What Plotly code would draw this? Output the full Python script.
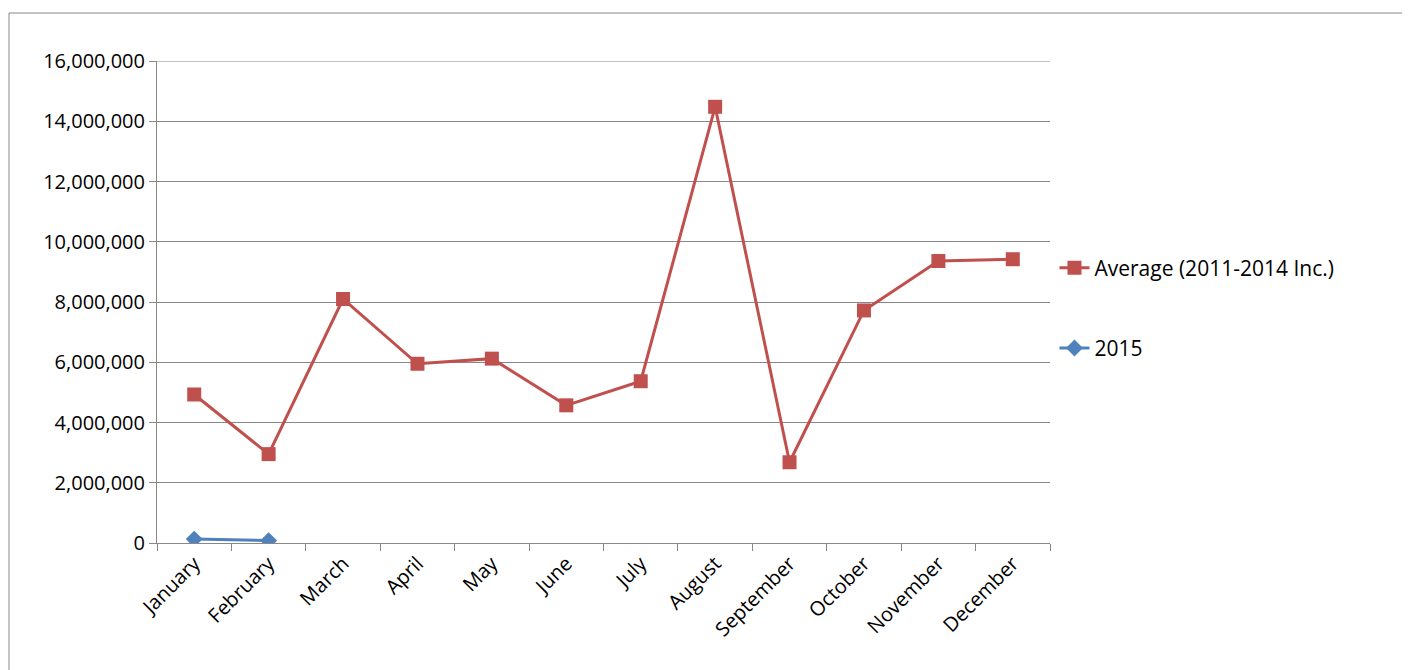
import plotly.graph_objects as go

months = ["January", "February", "March", "April", "May", "June", "July",
          "August", "September", "October", "November", "December"]
average = [4930000, 2950000, 8100000, 5950000, 6120000, 4570000, 5370000,
           14480000, 2680000, 7720000, 9360000, 9420000]
months_2015 = ["January", "February"]
y2015 = [130000, 80000]

fig = go.Figure()
fig.add_trace(go.Scatter(x=months, y=average, name="Average (2011-2014 Inc.)",
                         mode="lines+markers", legendgroup="a",
                         line=dict(color="#c0504d", width=3),
                         marker=dict(symbol="square", size=14, color="#c0504d")))
fig.add_trace(go.Scatter(x=months_2015, y=y2015, name="2015",
                         mode="lines+markers", legendgroup="b",
                         line=dict(color="#4f81bd", width=3),
                         marker=dict(symbol="diamond", size=13, color="#4f81bd")))

L, R, T, B = 149, 368, 53, 135
pw, ph = 1410 - L - R, 670 - T - B
def px(x): return (x - L) / pw
def py(y): return (670 - B - y) / ph

fig.update_layout(
    width=1410, height=670,
    margin=dict(l=L, r=R, t=T, b=B),
    plot_bgcolor="white", paper_bgcolor="white",
    font=dict(family="Open Sans", size=20, color="black"),
    showlegend=True,
    legend=dict(x=1.005, y=py(300), yanchor="middle", xanchor="left",
                tracegroupgap=50, font=dict(size=21)),
    xaxis=dict(type="category", tickson="boundaries", ticks="outside",
               ticklen=7, tickcolor="#888", tickangle=-45, showgrid=False,
               showline=True, linecolor="#888", range=[-0.5, 11.5]),
    yaxis=dict(range=[0, 16000000], dtick=2000000, tickformat=",d",
               ticks="outside", ticklen=7, tickcolor="#888",
               showgrid=True, gridcolor="#888", gridwidth=1,
               showline=True, linecolor="#888", zeroline=False),
    shapes=[dict(type="rect", xref="paper", yref="paper",
                 x0=px(1), x1=px(1404), y0=py(664), y1=py(5),
                 line=dict(color="#888", width=1)),
            dict(type="line", xref="paper", yref="y", x0=0, x1=1,
                 y0=16000000, y1=16000000, line=dict(color="#888", width=1))],
)

fig.write_html("out.html")
